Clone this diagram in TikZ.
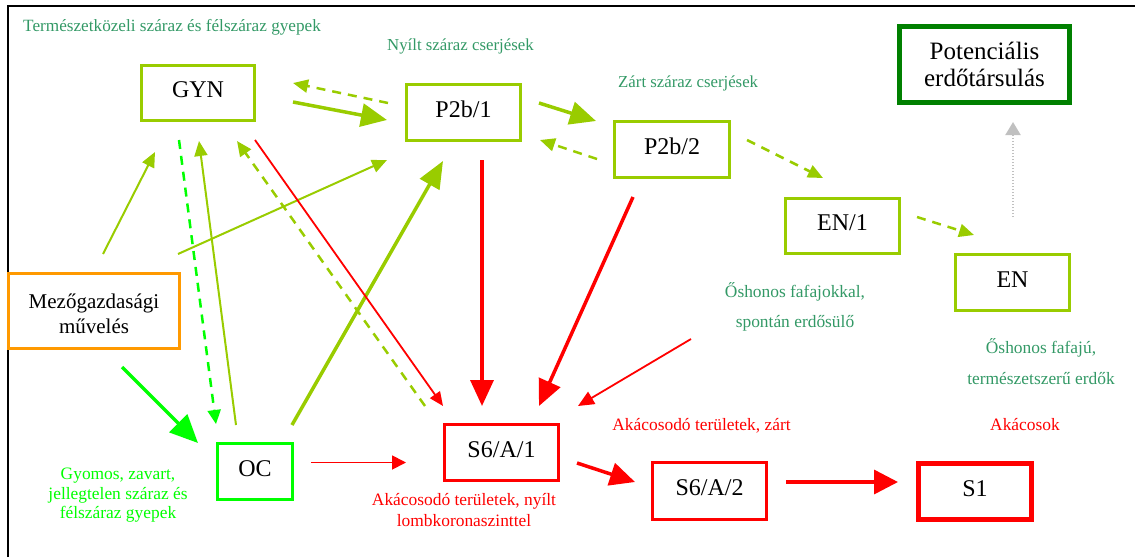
\documentclass[tikz,border=0pt]{standalone}
\usepackage{fontspec}
\setmainfont{Liberation Serif}
\usetikzlibrary{arrows.meta}

\definecolor{leafgreen}{HTML}{99CC00}
\definecolor{brightgreen}{HTML}{00FF00}
\definecolor{deepgreen}{HTML}{008000}
\definecolor{agriorange}{HTML}{FF9900}
\definecolor{labelgreen}{HTML}{339966}
\definecolor{hotred}{HTML}{FF0000}
\definecolor{paletrack}{HTML}{C0C0C0}

\tikzset{
  box/.style={draw, inner sep=0pt, line width=3pt,
    font=\fontsize{24}{28}\selectfont, text height=16pt, text depth=7pt},
  bigbox/.style={draw, inner sep=0pt, align=center},
  lbl/.style={inner sep=0pt, anchor=base, font=\fontsize{17.4}{20}\selectfont},
  heavy/.style={line width=3.5pt, -{Triangle[length=26pt,width=23pt]}},
  light/.style={line width=2pt, -{Triangle[length=15pt,width=13pt]}},
  dashy/.style={line width=2.5pt, dash pattern=on 9pt off 7pt,
    -{Triangle[length=15pt,width=13pt]}},
}

\begin{document}
\begin{tikzpicture}[x=1pt,y=-1pt]
\useasboundingbox (0,0) rectangle (1137,557);

% outer frame
\draw[line width=2pt] (8,557) -- (8,6) -- (1135,6);

% ---- boxes ----
\node[box, draw=leafgreen, minimum width=113pt, minimum height=55pt] (gyn) at (198,93) {GYN};
\node[box, draw=leafgreen, minimum width=114pt, minimum height=56pt] (pba) at (463.5,112.5) {P2b/1};
\node[box, draw=leafgreen, minimum width=115pt, minimum height=56pt] (pbb) at (672,149.5) {P2b/2};
\node[box, draw=leafgreen, minimum width=114pt, minimum height=55pt] (ena) at (842.5,226) {EN/1};
\node[box, draw=leafgreen, minimum width=114pt, minimum height=56pt] (en) at (1012.5,282.5) {EN};
\node[bigbox, draw=deepgreen, line width=5pt, minimum width=170pt, minimum height=76pt,
      font=\fontsize{25}{27}\selectfont] (pot) at (984.5,64.5) {Potenciális\\erdőtársulás};
\node[bigbox, draw=agriorange, line width=3pt, minimum width=171pt, minimum height=75pt] (mezo) at (94,311) {};
\node[inner sep=0pt, align=center, font=\fontsize{21}{25}\selectfont, yshift=-3pt] (mezotext) at (mezo) {Mezőgazdasági\\művelés};
\node[box, draw=brightgreen, minimum width=75pt, minimum height=56pt] (oc) at (255,471.5) {OC};
\node[box, draw=hotred, minimum width=114pt, minimum height=56pt] (sa) at (501.5,452.5) {S6/A/1};
\node[box, draw=hotred, minimum width=114pt, minimum height=57pt] (sb) at (709.5,491) {S6/A/2};
\node[box, draw=hotred, line width=5pt, minimum width=113pt, minimum height=56pt] (sone) at (975,491.5) {S1};

% ---- captions ----
\node[lbl, anchor=base west, text=labelgreen, font=\fontsize{17.2}{20}\selectfont] (t1) at (23,31.5) {Természetközeli száraz és félszáraz gyepek};
\node[lbl, anchor=base west, text=labelgreen, font=\fontsize{16.8}{20}\selectfont] (t2) at (387,50) {Nyílt száraz cserjések};
\node[lbl, anchor=base west, text=labelgreen, font=\fontsize{16.8}{20}\selectfont] (t3) at (618,87) {Zárt száraz cserjések};
\node[lbl, text=labelgreen] (t4a) at (795,297) {Őshonos fafajokkal,};
\node[lbl, text=labelgreen] (t4b) at (795,327) {spontán erdősülő};
\node[lbl, text=labelgreen] (t5a) at (1041,353) {Őshonos fafajú,};
\node[lbl, text=labelgreen] (t5b) at (1041,384) {természetszerű erdők};
\node[lbl, text=hotred] (t6) at (1025,430) {Akácosok};
\node[lbl, text=hotred] (t7) at (701.5,430) {Akácosodó területek, zárt};
\node[lbl, text=hotred] (t8a) at (464,505) {Akácosodó területek, nyílt};
\node[lbl, text=hotred] (t8b) at (464,526) {lombkoronaszinttel};
\node[lbl, text=brightgreen] (t9a) at (118,479) {Gyomos, zavart,};
\node[lbl, text=brightgreen] (t9b) at (118,499) {jellegtelen száraz és};
\node[lbl, text=brightgreen] (t9c) at (118,518.5) {félszáraz gyepek};

% ---- connector end points ----
\coordinate (gpS) at (293,102);  \coordinate (gpE) at (387,120);
\coordinate (pgS) at (388,103);  \coordinate (pgE) at (293,83);
\coordinate (ppS) at (539,103);  \coordinate (ppE) at (596,121);
\coordinate (qpS) at (597,159);  \coordinate (qpE) at (540,140);
\coordinate (qeS) at (747,140);  \coordinate (qeE) at (823,178);
\coordinate (eeS) at (917,217);  \coordinate (eeE) at (974,235);
\coordinate (epS) at (1013,217); \coordinate (epE) at (1013,122);
\coordinate (mgS) at (103,254);  \coordinate (mgE) at (155,152);
\coordinate (mpS) at (178,254);  \coordinate (mpE) at (387,160);
\coordinate (goS) at (179,140);  \coordinate (goE) at (216,424);
\coordinate (ogS) at (236,425);  \coordinate (ogE) at (199,141);
\coordinate (sgS) at (425,406);  \coordinate (sgE) at (237,141);
\coordinate (gsS) at (255,140);  \coordinate (gsE) at (443,406);
\coordinate (opS) at (292,425);  \coordinate (opE) at (443,161);
\coordinate (moS) at (122,367);  \coordinate (moE) at (198,443);
\coordinate (psS) at (482,160);  \coordinate (psE) at (482,406);
\coordinate (qsS) at (633,197);  \coordinate (qsE) at (539,406);
\coordinate (nsS) at (691,339);  \coordinate (nsE) at (578,406);
\coordinate (osS) at (311,462.5);\coordinate (osE) at (406,462.5);
\coordinate (ssS) at (577,463);  \coordinate (ssE) at (635,482);
\coordinate (stS) at (786,482);  \coordinate (stE) at (898,482);

% ---- light green successions ----
\draw[heavy, leafgreen] (gpS) -- (gpE);
\draw[dashy, leafgreen] (pgS) -- (pgE);
\draw[heavy, leafgreen] (ppS) -- (ppE);
\draw[dashy, leafgreen] (qpS) -- (qpE);
\draw[dashy, leafgreen] (qeS) -- (qeE);
\draw[dashy, leafgreen] (eeS) -- (eeE);
\draw[light, leafgreen] (mgS) -- (mgE);
\draw[light, leafgreen] (mpS) -- (mpE);
\draw[light, leafgreen] (ogS) -- (ogE);
\draw[dashy, leafgreen] (sgS) -- (sgE);
\draw[heavy, leafgreen, -{Triangle[length=27pt,width=22pt]}] (opS) -- (opE);

% ---- potential forest ----
\draw[paletrack, line width=2pt, dash pattern=on 1.5pt off 1.5pt,
      -{Triangle[length=13pt,width=15pt]}] (epS) -- (epE);

% ---- weedy grassland ----
\draw[dashy, brightgreen, -{Triangle[length=14pt,width=13pt]}] (goS) -- (goE);
\draw[heavy, brightgreen, -{Triangle[length=28pt,width=25pt]}] (moS) -- (moE);

% ---- black locust invasion ----
\draw[hotred, line width=1.8pt, -{Triangle[length=14pt,width=12pt]}] (gsS) -- (gsE);
\draw[heavy, hotred] (psS) -- (psE);
\draw[heavy, hotred] (qsS) -- (qsE);
\draw[hotred, line width=1.8pt, -{Triangle[length=16pt,width=14pt]}] (nsS) -- (nsE);
\draw[hotred, line width=1.8pt, -{Triangle[length=14pt,width=14pt]}] (osS) -- (osE);
\draw[heavy, hotred, -{Triangle[length=25pt,width=23pt]}] (ssS) -- (ssE);
\draw[heavy, hotred, -{Triangle[length=24pt,width=24pt]}] (stS) -- (stE);
\end{tikzpicture}
\end{document}
